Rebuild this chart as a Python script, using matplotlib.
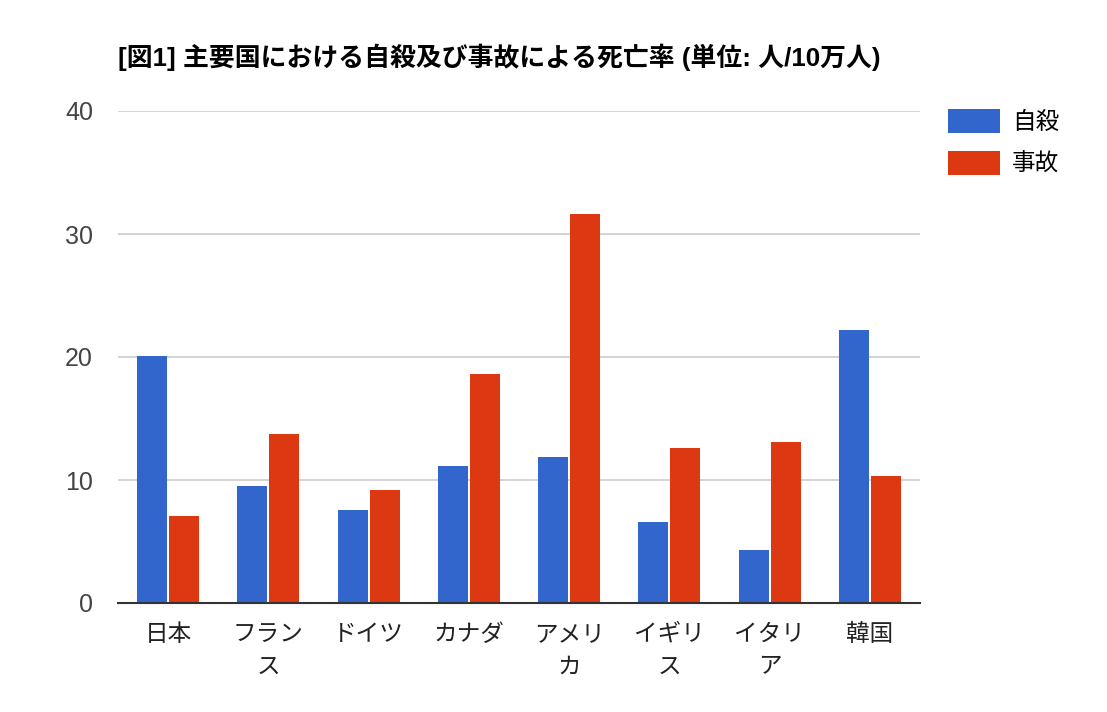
import numpy as np
import matplotlib.pyplot as plt

plt.rcParams['font.family'] = ['Liberation Sans', 'Noto Sans CJK JP']

countries = ["日本", "フラン\nス", "ドイツ", "カナダ", "アメリ\nカ", "イギリ\nス", "イタリ\nア", "韓国"]
suicide = [20.1, 9.5, 7.6, 11.1, 11.9, 6.6, 4.3, 22.2]
accident = [7.1, 13.7, 9.2, 18.6, 31.6, 12.6, 13.1, 10.3]
series_names = ["自殺", "事故"]
yticks = [0, 10, 20, 30, 40]

blue = "#3366cc"
red = "#dc3912"

fig = plt.figure(figsize=(11.07, 7.12), dpi=100)
ax = fig.add_axes([118 / 1107, 1 - 603 / 712, 802 / 1107, 492 / 712])

x = np.arange(len(countries))
w = 0.3
ax.bar(x - w / 2 - 0.01, suicide, width=w, color=blue, label=series_names[0], zorder=3)
ax.bar(x + w / 2 + 0.01, accident, width=w, color=red, label=series_names[1], zorder=3)

ax.set_xlim(-0.5, len(countries) - 0.5)
ax.set_ylim(0, 40)
ax.set_yticks(yticks)
ax.set_yticklabels([str(t) for t in yticks], fontsize=18, color="#444444")
ax.set_xticks(x)
ax.set_xticklabels(countries, fontsize=17, color="#222222", linespacing=1.62, va="top")
ax.tick_params(axis="y", length=0, pad=18)
ax.tick_params(axis="x", length=0, pad=15)

ax.grid(axis="y", color="#cccccc", linewidth=1.2, zorder=0)
for side in ["top", "right", "left"]:
    ax.spines[side].set_visible(False)
ax.spines["bottom"].set_color("#333333")
ax.spines["bottom"].set_linewidth(1.5)
ax.spines["bottom"].set_zorder(4)

fig.text(118 / 1107, 1 - 57 / 712, "[図1] 主要国における自殺及び事故による死亡率 (単位: 人/10万人)",
         fontsize=18.6, fontweight="bold", va="center", ha="left", color="#000000")

ax.legend(loc="upper left", bbox_to_anchor=(948 / 1107, 1 - 109 / 712),
          bbox_transform=fig.transFigure, frameon=False, fontsize=17,
          handlelength=2.2, handleheight=1.2, handletextpad=0.5, labelspacing=0.72,
          borderaxespad=0, borderpad=0)

fig.savefig("out.png", dpi=100)
